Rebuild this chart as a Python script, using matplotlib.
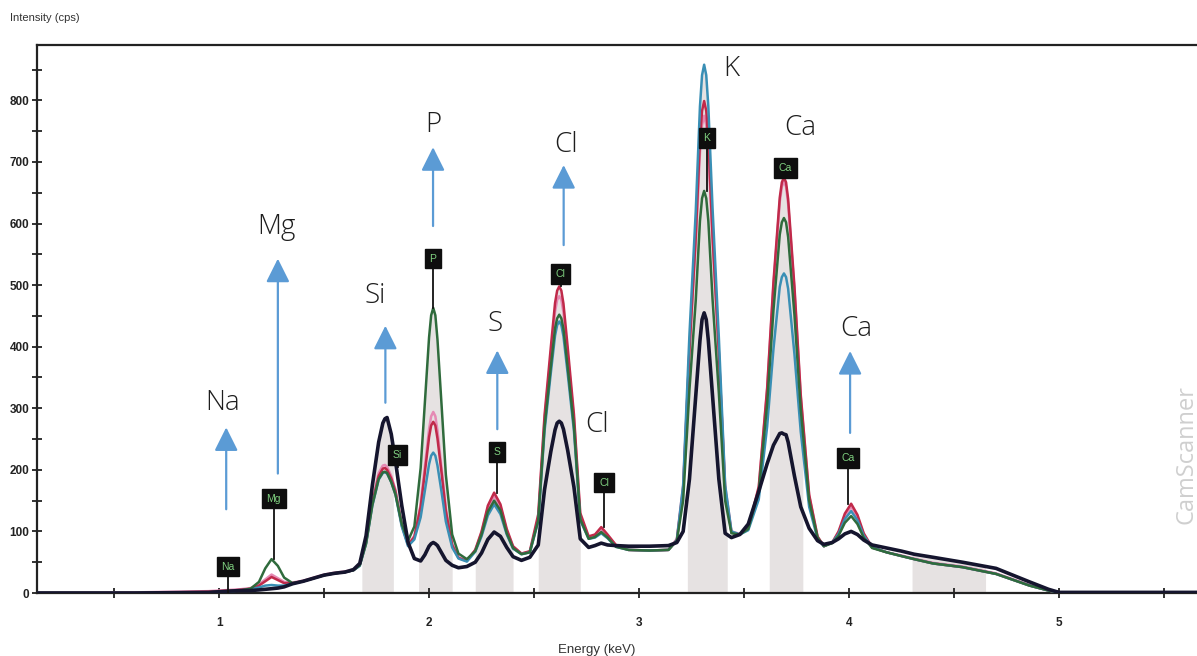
import numpy as np
import matplotlib
matplotlib.use("Agg")
import matplotlib.pyplot as plt

# ---- spectrum data ----
energy_kev = [0.13, 0.60, 0.95, 1.00, 1.05, 1.10, 1.15, 1.19, 1.22, 1.25, 1.28, 1.31, 1.35, 1.40, 1.45, 1.50, 1.55, 1.60,
              1.64, 1.67, 1.70, 1.73, 1.76, 1.78, 1.79, 1.80, 1.82, 1.84, 1.87,
              1.90, 1.93, 1.96, 1.98, 2.00, 2.01, 2.02, 2.03, 2.04, 2.06, 2.08, 2.11, 2.14,
              2.18, 2.22, 2.25, 2.28, 2.31, 2.34, 2.37, 2.40, 2.44,
              2.48, 2.52, 2.55, 2.58, 2.60, 2.61, 2.62, 2.63, 2.64, 2.66, 2.69, 2.72, 2.76, 2.79, 2.82, 2.85, 2.89,
              2.95, 3.05, 3.14,
              3.18, 3.21, 3.24, 3.27, 3.29, 3.30, 3.31, 3.32, 3.33, 3.35, 3.38, 3.41, 3.44, 3.48,
              3.52, 3.57, 3.61, 3.64, 3.67, 3.68, 3.69, 3.70, 3.71, 3.74, 3.77, 3.81, 3.85,
              3.88, 3.92, 3.95, 3.98, 4.01, 4.04, 4.07, 4.11, 4.18,
              4.25, 4.31, 4.40, 4.54, 4.70, 4.86, 4.95, 5.00, 5.30, 5.66]

cps_black = [0, 0, 1, 2, 3, 4, 4, 5, 6, 7, 8, 10, 15, 19, 24, 29, 32, 34,
             38, 48, 93, 175, 245, 276, 283, 285, 258, 214, 142,
             82, 56, 52, 62, 76, 80, 82, 80, 77, 65, 53, 45, 41,
             43, 50, 65, 87, 99, 92, 74, 59, 53,
             58, 78, 168, 230, 265, 276, 279, 276, 266, 232, 172, 88, 74, 77, 81, 78, 77,
             76, 76, 77,
             82, 100, 185, 320, 410, 444, 455, 444, 410, 320, 185, 97, 90, 95,
             112, 165, 210, 240, 259, 260, 258, 257, 245, 190, 140, 105, 85,
             79, 82, 88, 96, 100, 95, 86, 78, 73,
             68, 63, 58, 50, 40, 18, 6, 1, 1, 1]

cps_green = [0, 0, 1, 2, 3, 4, 7, 18, 40, 55, 44, 25, 16, 19, 24, 29, 32, 34,
             37, 45, 80, 143, 185, 196, 197, 195, 180, 160, 112,
             85, 108, 203, 309, 415, 451, 463, 451, 412, 303, 192, 95, 64,
             55, 68, 95, 132, 150, 134, 97, 73, 63,
             66, 118, 270, 368, 430, 446, 452, 446, 429, 367, 270, 120, 88, 91, 99, 90, 75,
             70, 69, 70,
             85, 150, 330, 475, 604, 641, 653, 641, 604, 477, 325, 150, 97, 95,
             104, 165, 307, 459, 582, 602, 609, 602, 578, 452, 298, 150, 90,
             76, 81, 93, 114, 125, 112, 90, 73, 66,
             60, 55, 48, 42, 31, 12, 4, 1, 1, 1]

cps_red = [0, 0, 2, 3, 4, 5, 7, 12, 19, 26, 21, 16, 16, 19, 24, 29, 32, 34,
           37, 45, 82, 147, 190, 202, 203, 200, 186, 165, 110,
           78, 91, 140, 196, 253, 272, 278, 272, 251, 194, 133, 78, 57,
           52, 70, 100, 142, 163, 144, 104, 76, 64,
           68, 128, 289, 400, 471, 491, 498, 491, 470, 400, 290, 130, 92, 95, 107, 95, 78,
           70, 69, 70,
           86, 168, 395, 578, 735, 783, 799, 783, 735, 580, 390, 168, 98, 95,
           105, 173, 333, 505, 642, 667, 675, 667, 640, 498, 322, 160, 92,
           76, 82, 100, 129, 145, 127, 97, 74, 66,
           60, 55, 48, 42, 31, 12, 4, 1, 1, 1]

cps_pink = [0, 1, 3, 4, 5, 6, 8, 14, 22, 30, 24, 18, 17, 20, 25, 30, 33, 35,
            38, 46, 84, 150, 195, 207, 208, 205, 190, 168, 112,
            78, 93, 144, 205, 266, 287, 294, 287, 264, 201, 137, 80, 58,
            53, 70, 98, 138, 158, 140, 101, 75, 64,
            67, 122, 282, 388, 457, 476, 482, 476, 456, 388, 283, 125, 90, 93, 102, 92, 76,
            70, 69, 70,
            88, 175, 395, 570, 715, 760, 775, 760, 715, 572, 392, 175, 100, 96,
            104, 170, 330, 499, 635, 660, 668, 660, 632, 492, 318, 158, 91,
            76, 82, 98, 125, 140, 123, 95, 74, 66,
            61, 56, 49, 43, 32, 13, 4, 1, 1, 1]

cps_cyan = [0, 0, 1, 2, 3, 4, 6, 9, 12, 13, 12, 12, 15, 19, 24, 29, 32, 34,
            37, 44, 80, 142, 184, 195, 196, 194, 180, 160, 108,
            76, 87, 123, 166, 209, 223, 228, 223, 207, 163, 116, 74, 56,
            51, 67, 92, 126, 144, 128, 95, 72, 63,
            66, 116, 263, 358, 418, 435, 441, 435, 417, 357, 263, 118, 88, 90, 97, 89, 75,
            70, 69, 70,
            86, 175, 420, 620, 790, 841, 858, 841, 790, 625, 415, 175, 100, 95,
            102, 152, 270, 396, 497, 513, 519, 513, 494, 388, 262, 140, 88,
            76, 82, 96, 120, 133, 118, 93, 74, 66,
            60, 55, 48, 42, 31, 12, 4, 1, 1, 1]

# shaded regions of interest (keV)
roi_lo = [1.68, 1.95, 2.22, 2.52, 3.23, 3.62, 4.30]
roi_hi = [1.83, 2.11, 2.40, 2.72, 3.42, 3.78, 4.65]

# element markers from the software (black boxes)
marker_names = ['Na', 'Mg', 'Si', 'P', 'S', 'Cl', 'Cl', 'K', 'Ca', 'Ca']
marker_kev = [1.043, 1.261, 1.850, 2.019, 2.325, 2.627, 2.833, 3.322, 3.697, 3.995]

# hand-drawn labels and arrows
note_names = ['Na', 'Mg', 'Si', 'P', 'S', 'Cl', 'Cl', 'K', 'Ca', 'Ca']
note_kev = [1.019, 1.271, 1.744, 2.019, 2.316, 2.651, 2.799, 3.441, 3.768, 4.033]
arrow_kev = [1.034, 1.280, 1.792, 2.019, 2.325, 2.641, None, None, None, 4.005]

E = np.array(energy_kev)
series = [
    (cps_pink, '#e58ab4', 1.8),
    (cps_red, '#c02a4a', 1.8),
    (cps_cyan, '#3a8fb5', 1.8),
    (cps_green, '#2f6b3c', 1.8),
    (cps_black, '#15152e', 2.6),
]

fig = plt.figure(figsize=(11.97, 6.56), dpi=100)
ax = fig.add_axes([37 / 1197, 63 / 656, 1 - 37 / 1197, 548 / 656])
ax.set_xlim(0.133, 5.657)
ax.set_ylim(0, 890)

# gray ROI bands up to the highest trace
top = np.max(np.array([s[0] for s in series]), axis=0)
for lo, hi in zip(roi_lo, roi_hi):
    xs = np.linspace(lo, hi, 60)
    ax.fill_between(xs, 0, np.interp(xs, E, top), color='#e6e2e2', lw=0, zorder=1)

for vals, col, lw in series:
    ax.plot(E, vals, color=col, lw=lw, zorder=3, solid_joinstyle='round')

# marker boxes with stems
box_cps = [43, 153, 224, 543, 229, 518, 179, 739, 690, 219]
stem_cps = [0, 55, 205, 463, 163, 498, 107, 653, 675, 145]
for name, x, yb, ys in zip(marker_names, marker_kev, box_cps, stem_cps):
    ax.plot([x, x], [ys, yb], color='#111111', lw=1.3, zorder=4)
    ax.text(x, yb, name, ha='center', va='center', fontsize=7.5, color='#7fd07f',
            family='Liberation Sans', zorder=6,
            bbox=dict(boxstyle='square,pad=0.45', fc='#0e0e0e', ec='#0e0e0e'))

# blue arrows + labels
note_cps = [309, 595, 483, 760, 437, 727, 273, 851, 755, 428]
arrow_head = [269, 543, 434, 724, 394, 695, None, None, None, 393]
arrow_tail = [136, 194, 309, 596, 266, 565, None, None, None, 260]
for name, x, y in zip(note_names, note_kev, note_cps):
    ax.text(x, y, name, ha='center', va='center', fontsize=20, color='#1e1e1e',
            family='Open Sans', fontweight='light', zorder=7)
for x, yh, yt in zip(arrow_kev, arrow_head, arrow_tail):
    if x is None:
        continue
    ax.annotate('', xy=(x, yh), xytext=(x, yt), zorder=7,
                arrowprops=dict(arrowstyle='-|>,head_length=0.8,head_width=0.4',
                                color='#5b9bd5', lw=1.6, mutation_scale=18,
                                shrinkA=0, shrinkB=0))

# axes styling
ax.set_xticks([1, 2, 3, 4, 5])
ax.set_xticks([0.5, 1.5, 2.5, 3.5, 4.5, 5.5], minor=True)
ax.set_yticks(range(0, 801, 100))
ax.set_yticks(range(50, 851, 100), minor=True)
ax.tick_params(which='both', direction='inout', length=7, width=1.3, color='#222222',
               labelsize=8.5, labelcolor='#222222')
ax.tick_params(axis='x', pad=14)
ax.tick_params(axis='y', pad=2)
for lab in ax.get_xticklabels() + ax.get_yticklabels():
    lab.set_family('Liberation Sans')
    lab.set_fontweight('bold')
ax.spines['right'].set_visible(False)
for sp in ['left', 'bottom', 'top']:
    ax.spines[sp].set_linewidth(1.6)
    ax.spines[sp].set_color('#222222')

fig.text(10 / 1197, 1 - 18 / 656, 'Intensity (cps)', fontsize=8, color='#333333',
         family='Liberation Sans', ha='left', va='center')
fig.text(597 / 1197, 1 - 650 / 656, 'Energy (keV)', fontsize=9.5, color='#333333',
         family='Liberation Sans', ha='center', va='center')
fig.text(1187 / 1197, 1 - 455 / 656, 'CamScanner', fontsize=17, color='#cfcfcf',
         rotation=90, ha='center', va='center', family='Open Sans')

fig.savefig('out.png', dpi=100)
